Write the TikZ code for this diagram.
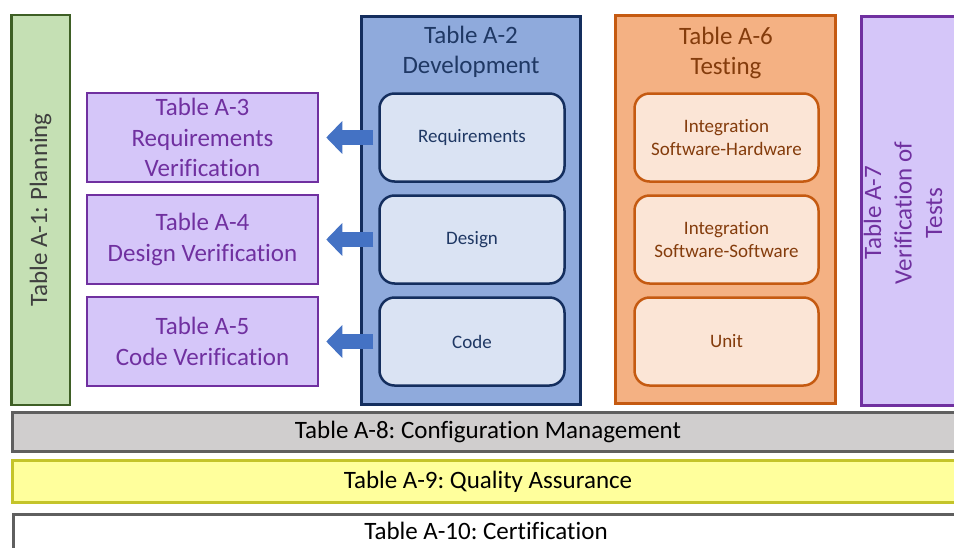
\documentclass[tikz,border=0pt]{standalone}
\usepackage{fontspec}
\setmainfont{Carlito}[RawFeature=-liga]
\usetikzlibrary{arrows.meta}
\frenchspacing

\definecolor{planfill}{HTML}{C5E0B4}
\definecolor{planline}{HTML}{3E5F25}
\definecolor{plantext}{HTML}{3F3F3F}
\definecolor{verfill}{HTML}{D5C6F9}
\definecolor{verline}{HTML}{7030A0}
\definecolor{devfill}{HTML}{8FAADC}
\definecolor{devline}{HTML}{142E5E}
\definecolor{devtext}{HTML}{1F3864}
\definecolor{devinfill}{HTML}{DAE3F3}
\definecolor{arrowfill}{HTML}{4472C4}
\definecolor{testfill}{HTML}{F4B183}
\definecolor{testline}{HTML}{C55A11}
\definecolor{testtext}{HTML}{843C0C}
\definecolor{testinfill}{HTML}{FBE5D6}
\definecolor{cmfill}{HTML}{D0CECE}
\definecolor{barline}{HTML}{5F5F5F}
\definecolor{qafill}{HTML}{FFFF9C}
\definecolor{qaline}{HTML}{C4C42A}

\tikzset{
  bigfont/.style={font=\fontsize{25}{30.5}\selectfont},
  smallfont/.style={font=\fontsize{19}{23}\selectfont},
  frame/.style={draw, line width=2.5pt, inner sep=0pt, align=center},
  planbox/.style={frame, fill=planfill, draw=planline, text=plantext, bigfont},
  verbox/.style={frame, fill=verfill, draw=verline, text=verline, bigfont,
    minimum width=231pt, minimum height=89pt},
  groupbox/.style={frame, line width=3pt},
  devinner/.style={frame, fill=devinfill, draw=devline, text=devtext, smallfont,
    rounded corners=15pt, minimum width=185pt, minimum height=88pt},
  testinner/.style={frame, fill=testinfill, draw=testline, text=testtext, smallfont,
    rounded corners=15pt, minimum width=184pt, minimum height=88pt},
  bar/.style={frame, line width=3pt, text=black, bigfont, minimum width=952pt},
  blockarrow/.style={draw=arrowfill, line width=15pt,
    -{Triangle[length=16pt, width=32pt]}, arrowfill},
}

\begin{document}
\begin{tikzpicture}[x=1pt, y=-1pt]
\useasboundingbox (0,0) rectangle (954,547);
\clip (0,0) rectangle (954,547);

% Planning column
\node[planbox, minimum width=58.5pt, minimum height=390pt] (a1) at (40.5,210) {};
\node[rotate=90, text=plantext, bigfont] (a1t) at (a1.center) {Table A-1: Planning};

% Verification boxes
\node[verbox] (a3) at (202.5,137.5) {Table A-3\\Requirements\\Verification};
\node[verbox] (a4) at (202.5,239.5) {Table A-4\\Design Verification};
\node[verbox] (a5) at (202.5,341.5) {Table A-5\\Code Verification};

% Development group
\node[groupbox, fill=devfill, draw=devline, minimum width=219pt, minimum height=388pt] (a2) at (471,210.5) {};
\node[bigfont, text=devtext, align=center] (a2t) at (471,52) {Table A-2\\Development};
\node[devinner] (req) at (472,137.5) {Requirements};
\node[devinner] (des) at (472,239.5) {Design};
\node[devinner] (cod) at (472,341.5) {Code};

% Testing group
\node[groupbox, fill=testfill, draw=testline, minimum width=220pt, minimum height=388pt] (a6) at (725.5,209.5) {};
\node[bigfont, text=testtext, align=center] (a6t) at (726,53) {Table A-6\\Testing};
\node[testinner] (hw) at (726.5,137.5) {Integration\\Software-Hardware};
\node[testinner] (sw) at (726.5,239.5) {Integration\\Software-Software};
\node[testinner] (un) at (726.5,341.5) {Unit};

% Verification of tests
\node[frame, fill=verfill, draw=verline, minimum width=110pt, minimum height=389pt, anchor=north west] (a7) at (860.25,15.25) {};
\node[rotate=90, bigfont, text=verline, align=center] (a7t) at (903,213) {Table A-7\\Verification of\\Tests};

% Arrows from development items to their verification tables
\draw[blockarrow] ([xshift=-5pt]req.west) -- ([xshift=7pt]a3.east);
\draw[blockarrow] ([xshift=-5pt]des.west) -- ([xshift=7pt]a4.east);
\draw[blockarrow] ([xshift=-5pt]cod.west) -- ([xshift=7pt]a5.east);

% Integral processes
\node[bar, fill=cmfill, draw=barline, minimum height=39pt, anchor=west] (a8) at (10.5,432) {Table A-8: Configuration Management};
\node[bar, fill=qafill, draw=qaline, minimum height=42pt, anchor=west] (a9) at (10.5,481.5) {Table A-9: Quality Assurance};
\node[bar, fill=white, draw=barline, minimum height=42pt, anchor=north west] (a10) at (11.5,512.5) {};
\node[bigfont, text=black] (a10t) at (486,531) {Table A-10: Certification};
\end{tikzpicture}
\end{document}
